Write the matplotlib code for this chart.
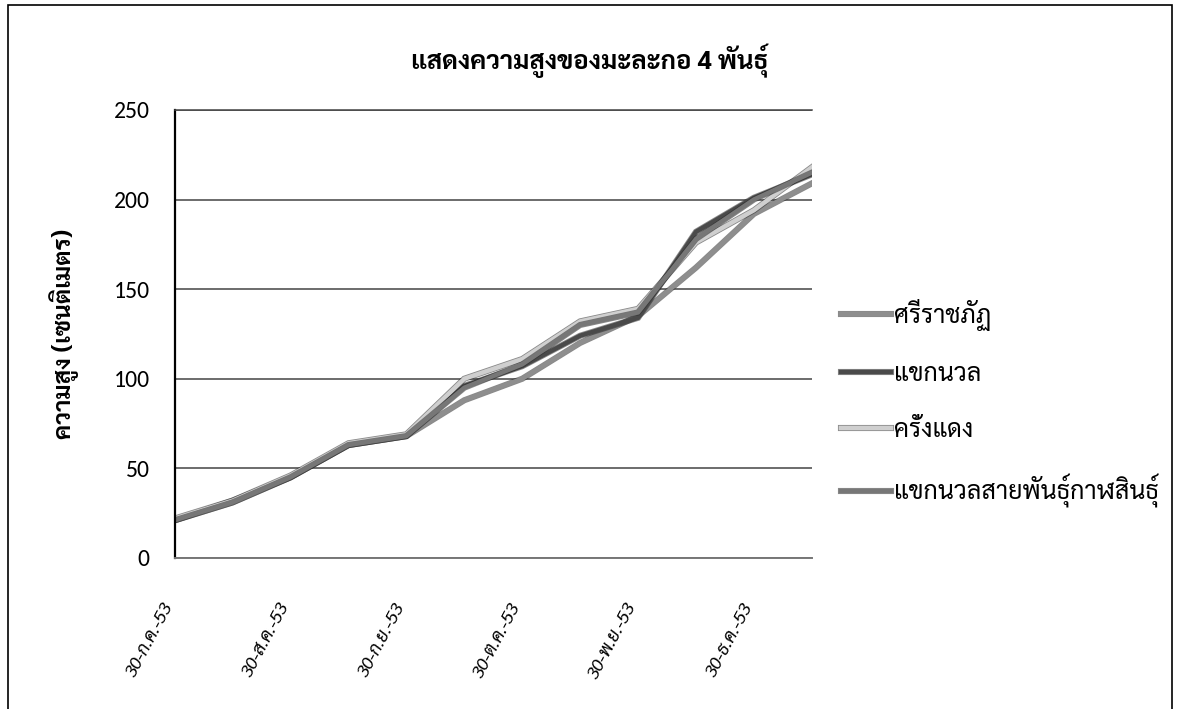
import matplotlib
matplotlib.use("Agg")
import matplotlib.pyplot as plt
import matplotlib.patheffects as pe
from matplotlib import font_manager
from matplotlib.patches import Rectangle
from matplotlib.transforms import ScaledTranslation

dates = ["30-ก.ค.-53", "15-ส.ค.-53", "30-ส.ค.-53", "15-ก.ย.-53", "30-ก.ย.-53",
         "15-ต.ค.-53", "30-ต.ค.-53", "15-พ.ย.-53", "30-พ.ย.-53", "15-ธ.ค.-53",
         "30-ธ.ค.-53", "15-ม.ค.-54"]
sriracha = [21, 31, 45, 63, 68, 88, 100, 120, 135, 162, 192, 209]
khaeknuan = [21, 32, 45, 63, 68, 96, 107, 124, 134, 182, 201, 214]
krangdaeng = [22, 32, 46, 64, 69, 100, 111, 132, 139, 176, 194, 218]
khaeknuan_kalasin = [21, 31, 45, 63, 68, 95, 108, 130, 137, 178, 200, 215]

series_names = ["ศรีราชภัฏ", "แขกนวล", "ครั่งแดง", "แขกนวลสายพันธุ์กาฬสินธุ์"]
series_values = [sriracha, khaeknuan, krangdaeng, khaeknuan_kalasin]
series_colors = ["#8e8e8e", "#4a4a4a", "#cfcfcf", "#777777"]
yticks = [0, 50, 100, 150, 200, 250]

available = set(f.name for f in font_manager.fontManager.ttflist)


def pick(cands):
    for c in cands:
        if c in available:
            return c
    return "DejaVu Sans"


# looped Thai face closest to the Angsana/Cordia look of the original
thai_font = pick(["TH Sarabun New", "Sarabun", "Taviraj", "Trirong", "Pridi",
                  "Krub", "Noto Sans Thai Looped", "FreeSerif", "Loma"])
num_font = pick(["Carlito", "Open Sans", "Liberation Sans"])
thai = [thai_font, "DejaVu Sans"]

fig = plt.figure(figsize=(11.8, 7.09), dpi=100)
ax = fig.add_axes([0.148, 0.213, 0.540, 0.632])

x = list(range(len(dates)))
for name, vals, col in zip(series_names, series_values, series_colors):
    ax.plot(x, vals, color=col, lw=3.2, label=name, solid_joinstyle="miter",
            path_effects=[pe.Stroke(linewidth=4.4, foreground="#2a2a2a", alpha=0.55),
                          pe.Normal()])

ax.set_xlim(0, len(dates) - 1)
ax.set_ylim(0, 250)
ax.set_yticks(yticks)
ax.set_yticklabels([str(v) for v in yticks], fontfamily=num_font, fontsize=17)
ax.set_xticks(x[::2])
ax.set_xticklabels(dates[::2], rotation=62, ha="right", va="top",
                   rotation_mode="anchor", fontfamily=thai, fontsize=13,
                   style="italic")
ax.tick_params(axis="both", length=0)
ax.tick_params(axis="y", pad=18)
# slanted date labels: drop them below the axis and nudge left under the ticks
shift = ScaledTranslation(-0.13, -30 / 72, fig.dpi_scale_trans)
for t in ax.xaxis.get_major_ticks():
    t.label1.set_transform(ax.get_xaxis_transform() + shift)

ax.yaxis.grid(True, color="#444444", lw=1.1)
ax.set_axisbelow(True)
ax.spines["right"].set_visible(False)
ax.spines["top"].set_color("#444444")
ax.spines["top"].set_linewidth(1.1)
ax.spines["left"].set_color("black")
ax.spines["left"].set_linewidth(1.6)
ax.spines["bottom"].set_color("#777777")
ax.spines["bottom"].set_linewidth(1.4)

ax.set_ylabel("ความสูง (เซนติเมตร)", fontfamily=thai, fontsize=17.5,
              fontweight="bold", labelpad=25)

fig.text(0.5, 0.915, "แสดงความสูงของมะละกอ 4 พันธุ์", ha="center", va="center",
         fontfamily=thai, fontsize=18.5, fontweight="bold")

ax.legend(loc="center left", bbox_to_anchor=(1.01, 0.345), frameon=False,
          handlelength=2.0, handletextpad=0.15, labelspacing=1.25,
          prop={"family": thai, "size": 18})

# page frame from the scanned report
fig.patches.append(Rectangle((0.0068, -0.02), 0.986, 1.013, transform=fig.transFigure,
                             fill=False, edgecolor="black", lw=1.2))

fig.savefig("out.png", dpi=100)
